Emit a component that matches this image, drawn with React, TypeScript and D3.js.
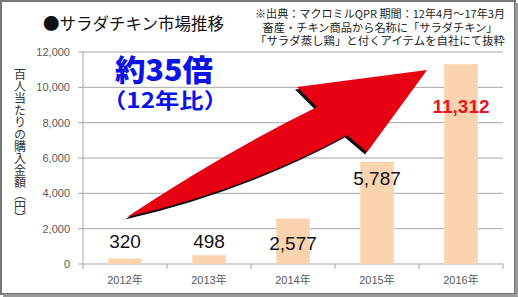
import React, { useEffect } from "react";
import * as d3 from "d3";

const categories = ["2012年", "2013年", "2014年", "2015年", "2016年"];
const values = [320, 498, 2577, 5787, 11312];
const labelTexts = ["320", "498", "2,577", "5,787", "11,312"];
const labelAt = [900, 900, 800, 4470, 8550];
const yTicks = [0, 2000, 4000, 6000, 8000, 10000, 12000];
const titleText = "●サラダチキン市場推移";
const yAxisTitle = "百人当たりの購入金額（円）";
const noteLines = [
  "※出典：マクロミルQPR 期間：12年4月～17年3月",
  "畜産・チキン商品から名称に「サラダチキン」",
  "「サラダ蒸し鶏」と付くアイテムを自社にて抜粋",
];
const noteWidths = [250, 235, 250];
const bigText = "約35倍";
const subText = "（12年比）";

const W = 518;
const H = 297;
const JP = '"Noto Sans CJK JP", "Noto Sans", sans-serif';
const NUM = '"Liberation Sans", Arial, sans-serif';

export default function App() {
  useEffect(() => {
    document.body.style.margin = "0";
  }, []);

  const x = d3
    .scaleBand<string>()
    .domain(categories)
    .range([83, 503])
    .paddingInner(0.6)
    .paddingOuter(0.3);
  const y = d3.scaleLinear().domain([0, 12000]).range([264, 52]);
  const step = x.step();
  const bounds = d3.range(categories.length + 1).map((i) => 83 + i * step);
  const fmt = d3.format(",");

  const arrow =
    "M127,217 Q225,152 317,107 L297,87 L427,70 L367,152 L347,135 Q245,190 127,217 Z";

  return (
    <svg
      width={W}
      height={H}
      style={{ position: "fixed", left: 0, top: 0, display: "block", background: "#fff" }}
    >
      <rect x={0} y={0} width={W} height={H} fill="#fff" />
      {/* frame */}
      <rect x={1} y={1} width={W - 4} height={H - 4} fill="none" stroke="#777" strokeWidth={2} />
      <line x1={W - 1.5} y1={3} x2={W - 1.5} y2={H} stroke="#999" strokeWidth={3} />
      <line x1={3} y1={H - 1.5} x2={W} y2={H - 1.5} stroke="#999" strokeWidth={3} />

      {/* title */}
      <text x={43} y={30} fontFamily={JP} fontSize={16.5} fill="#111">
        {titleText}
      </text>

      {/* note */}
      {noteLines.map((t, i) => (
        <text
          key={i}
          x={380 - noteWidths[i] / 2}
          y={18 + i * 13.7}
          fontFamily={JP}
          fontSize={11}
          fill="#222"
          textLength={noteWidths[i]}
          lengthAdjust="spacingAndGlyphs"
        >
          {t}
        </text>
      ))}

      {/* gridlines */}
      {yTicks.map((t) => (
        <line
          key={t}
          x1={83}
          x2={503}
          y1={y(t)}
          y2={y(t)}
          stroke="#a6a6a6"
          strokeWidth={1}
        />
      ))}
      {/* y axis */}
      <line x1={83} x2={83} y1={y(12000)} y2={y(0)} stroke="#a6a6a6" />
      {yTicks.map((t) => (
        <g key={"yt" + t}>
          <line x1={78} x2={83} y1={y(t)} y2={y(t)} stroke="#a6a6a6" />
          <text
            x={70}
            y={y(t) + 4}
            textAnchor="end"
            fontFamily={NUM}
            fontSize={11}
            fill="#595959"
          >
            {fmt(t)}
          </text>
        </g>
      ))}
      {/* x axis ticks */}
      {bounds.map((b, i) => (
        <line key={"xt" + i} x1={b} x2={b} y1={264} y2={269} stroke="#a6a6a6" />
      ))}
      {categories.map((c) => (
        <text
          key={c}
          x={(x(c) ?? 0) + x.bandwidth() / 2}
          y={284}
          textAnchor="middle"
          fontFamily={`${NUM.split(",")[0]}, ${JP}`}
          fontSize={11}
          fill="#595959"
        >
          {c}
        </text>
      ))}

      {/* bars */}
      {categories.map((c, i) => (
        <rect
          key={"b" + c}
          x={x(c)}
          y={y(values[i])}
          width={x.bandwidth()}
          height={y(0) - y(values[i])}
          fill="#fad4b0"
        />
      ))}

      {/* y axis title */}
      <text
        x={20}
        y={68}
        fontFamily={JP}
        fontSize={12}
        fill="#333"
        style={{ writingMode: "vertical-rl" } as any}
      >
        {yAxisTitle}
      </text>

      {/* arrow */}
      <path d={arrow} transform="translate(-2,2.5)" fill="#111" />
      <path d={arrow} fill="#e60012" />

      {/* big annotation */}
      <text
        x={115}
        y={81}
        fontFamily={JP}
        fontWeight={900}
        fontSize={30}
        fill="#0a14e6"
        textLength={98}
        lengthAdjust="spacingAndGlyphs"
      >
        {bigText}
      </text>
      <text
        x={102}
        y={108}
        fontFamily={JP}
        fontWeight={700}
        fontSize={21}
        fill="#0a14e6"
        textLength={126}
        lengthAdjust="spacingAndGlyphs"
      >
        {subText}
      </text>

      {/* data labels */}
      {categories.map((c, i) => (
        <text
          key={"l" + c}
          x={(x(c) ?? 0) + x.bandwidth() / 2}
          y={y(labelAt[i])}
          textAnchor="middle"
          fontFamily={NUM}
          fontSize={19}
          fontWeight={i === 4 ? 700 : 400}
          fill={i === 4 ? "#e8141e" : "#111"}
        >
          {labelTexts[i]}
        </text>
      ))}
    </svg>
  );
}
